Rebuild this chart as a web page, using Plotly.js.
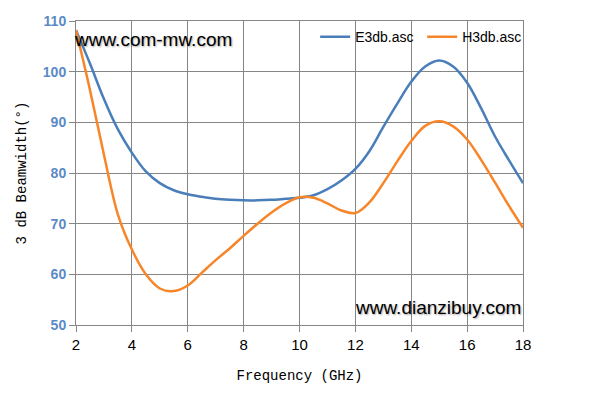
<!DOCTYPE html>
<html>
<head>
<meta charset="utf-8">
<script src="https://cdn.plot.ly/plotly-3.0.1.min.js"></script>
<style>html,body{margin:0;padding:0;background:#fff;}#chart{width:596px;height:408px;}</style>
</head>
<body>
<div id="chart"></div>
<script>
var freq = [2,2.5,3,3.5,4,4.5,5,5.5,6,6.5,7,7.5,8,8.5,9,9.5,10,10.5,11,11.5,12,12.5,13,13.5,14,14.5,15,15.5,16,16.5,17,17.5,18];
var e3db = [108.2,101.6,94.6,88.6,84.0,80.3,78.0,76.6,75.8,75.3,74.9,74.7,74.6,74.6,74.7,74.9,75.1,75.6,76.8,78.5,80.8,84.3,89.1,93.7,98.0,101.0,102.2,101.0,97.8,92.8,87.2,82.5,78.0];
var h3db = [108.2,96.4,83.6,71.8,64.9,60.0,57.2,56.7,57.8,60.3,62.8,65.1,67.6,70.0,72.2,74.0,75.2,75.1,74.0,72.6,72.1,74.2,78.0,82.3,86.3,89.3,90.2,89.2,86.6,82.6,78.1,73.5,69.2];
var seriesNames = ['E3db.asc','H3db.asc'];
var xTickVals = [2,4,6,8,10,12,14,16,18];
var yTickVals = [50,60,70,80,90,100,110];

var traces = [
  {x: freq, y: e3db, name: seriesNames[0], type: 'scatter', mode: 'lines',
   line: {color: '#4A7EBB', width: 2.5, shape: 'spline', smoothing: 1}},
  {x: freq, y: h3db, name: seriesNames[1], type: 'scatter', mode: 'lines',
   line: {color: '#F7862A', width: 2.5, shape: 'spline', smoothing: 1}}
];

var grid = '#868686';
var layout = {
  width: 596, height: 408,
  margin: {l: 75.5, r: 73.3, t: 21.3, b: 82.7},
  paper_bgcolor: '#fff', plot_bgcolor: '#fff',
  showlegend: true,
  legend: {orientation: 'h', x: 0.535, y: 0.947, xanchor: 'left', yanchor: 'middle',
    bgcolor: 'rgba(0,0,0,0)', font: {family: 'Liberation Sans, Arial, sans-serif', size: 14, color: '#000'},
    entrywidth: 62, entrywidthmode: 'pixels', tracegroupgap: 0, itemwidth: 30},
  xaxis: {range: [2,18], tickvals: xTickVals, ticktext: xTickVals.map(String),
    showgrid: true, gridcolor: grid, gridwidth: 1, zeroline: false,
    showline: true, linecolor: grid, linewidth: 1, mirror: true,
    ticks: 'outside', ticklen: 6, tickcolor: grid, tickwidth: 1,
    tickfont: {family: 'Liberation Sans, Arial, sans-serif', size: 15, color: '#000'},
    title: {text: 'Frequency (GHz)', font: {family: 'Liberation Mono, monospace', size: 14, color: '#000'}, standoff: 18}},
  yaxis: {range: [50,110], tickvals: yTickVals, ticktext: yTickVals.map(String),
    showgrid: true, gridcolor: grid, gridwidth: 1, zeroline: false,
    showline: true, linecolor: grid, linewidth: 1, mirror: true,
    ticks: 'outside', ticklen: 6, tickcolor: grid, tickwidth: 1,
    tickfont: {family: 'Liberation Sans, Arial, sans-serif', size: 14, color: '#5A8AC6', weight: 'bold'},
    title: {text: '3 dB Beamwidth(°)', font: {family: 'Liberation Mono, monospace', size: 14, color: '#000'}, standoff: 12}},
  annotations: [
    {xref: 'paper', yref: 'paper', x: -0.01, y: 0.9385, xanchor: 'left', yanchor: 'middle', showarrow: false,
     text: 'www.com-mw.com', font: {family: 'Liberation Sans, Arial, sans-serif', size: 19, color: '#000', shadow: '1px 1px 2px rgba(0,0,0,0.35)'}},
    {xref: 'paper', yref: 'paper', x: 1.0, y: 0.057, xanchor: 'right', yanchor: 'middle', showarrow: false,
     text: 'www.dianzibuy.com', font: {family: 'Liberation Sans, Arial, sans-serif', size: 19, color: '#000', shadow: '1px 1px 2px rgba(0,0,0,0.35)'}}
  ]
};

Plotly.newPlot('chart', traces, layout, {displayModeBar: false, staticPlot: true});
</script>
</body>
</html>
